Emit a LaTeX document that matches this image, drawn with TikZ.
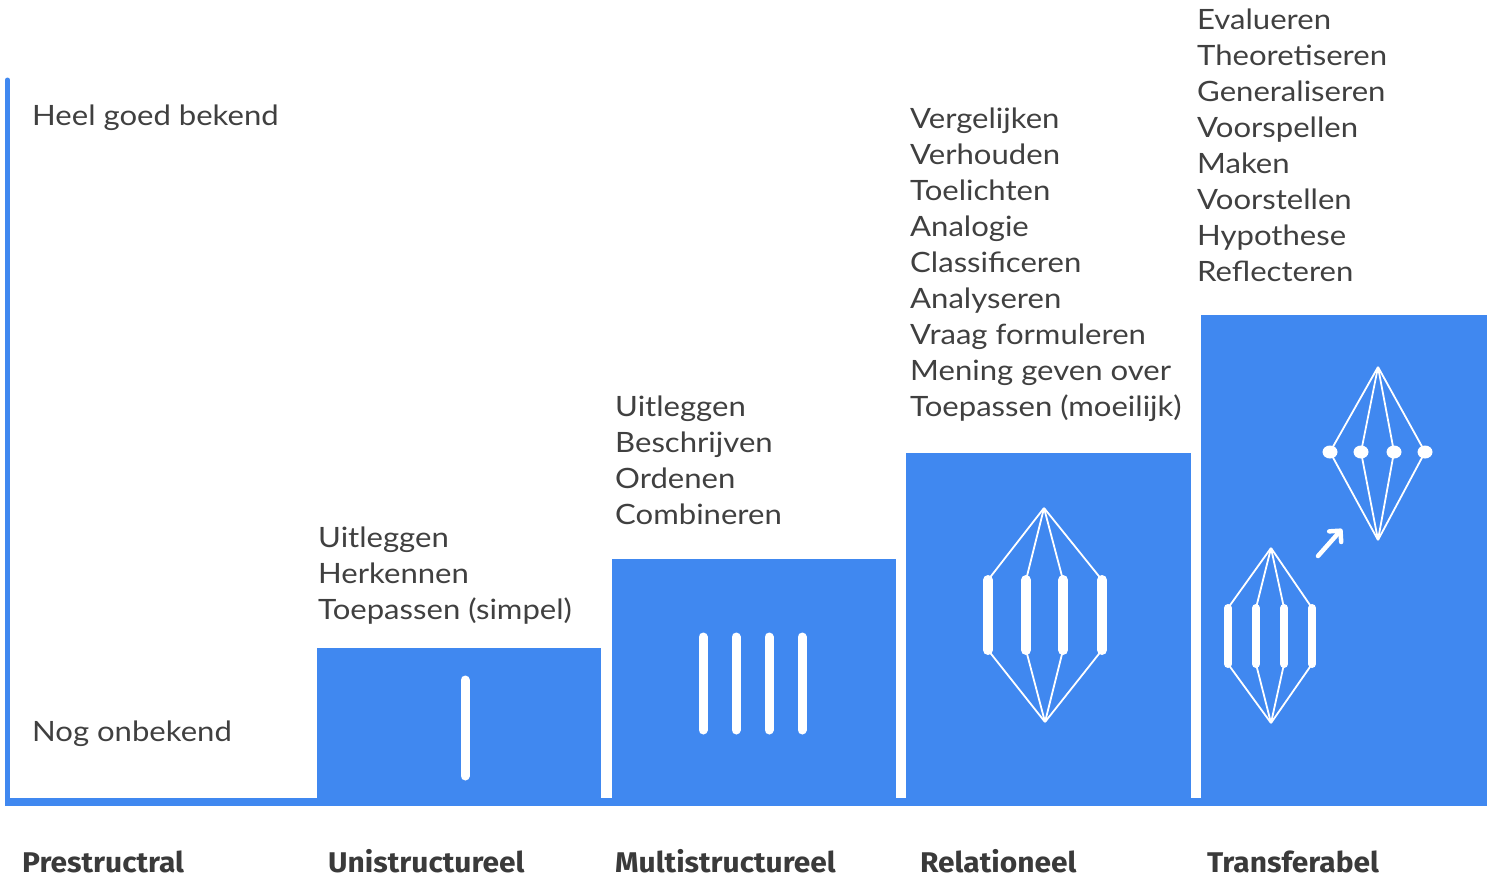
\documentclass[tikz,border=0pt]{standalone}
\usepackage{fontspec}
\setmainfont{Lato}[FakeStretch=1.11]
\newfontfamily\labfont{Fira Sans}[FakeStretch=1.05]
\usetikzlibrary{arrows.meta}
\definecolor{barblue}{RGB}{64,136,240}
\definecolor{txtgray}{RGB}{64,64,64}
\tikzset{
  bar/.style={fill=barblue, draw=none},
  wstick/.style={white, line width=#1, line cap=round},
  wline/.style={white, line width=1.8pt},
  item/.style={anchor=base west, inner sep=0pt, text=txtgray, font=\fontsize{28}{34}\selectfont},
  lvl/.style={anchor=base west, inner sep=0pt, text=txtgray!90!black, font=\labfont\bfseries\fontsize{28.5}{32}\selectfont},
}
\begin{document}
\begin{tikzpicture}[x=1pt,y=-1pt]
\useasboundingbox (0,0) rectangle (1493,878);
% bars
\fill[bar] (317,648) rectangle (601,802);
\fill[bar] (612,559) rectangle (896,802);
\fill[bar] (906,453) rectangle (1191,802);
\fill[bar] (1201,315) rectangle (1487,802);
% axes
\fill[barblue] (5,798) rectangle (1487,806);
\draw[barblue, line width=5pt, line cap=round] (7.5,80) -- (7.5,803);
% Unistructureel stick
\draw[wstick=9pt] (465,680) -- (465,776);
% Multistructureel sticks
\foreach \x in {703,736,769,802}{\draw[wstick=9pt] (\x,637) -- (\x,730);}
% Relationeel
\coordinate (rt) at (1044,508);
\coordinate (rb) at (1045,722);
\foreach \x/\n in {988/1,1026/2,1063/3,1102/4}{
  \coordinate (rs\n t) at (\x,580);
  \coordinate (rs\n b) at (\x,650);
  \draw[wstick=10pt] (rs\n t) -- (rs\n b);
  \draw[wline] (rt) -- (rs\n t);
  \draw[wline] (rs\n b) -- (rb);
}
% Transferabel small
\coordinate (tt) at (1271,548);
\coordinate (tb) at (1271,723);
\foreach \x/\n in {1228/1,1256/2,1284/3,1312/4}{
  \coordinate (ts\n t) at (\x,608);
  \coordinate (ts\n b) at (\x,664);
  \draw[wstick=8pt] (ts\n t) -- (ts\n b);
  \draw[wline] (tt) -- (ts\n t);
  \draw[wline] (ts\n b) -- (tb);
}
% Transferabel dots
\coordinate (dt) at (1378,367);
\coordinate (db) at (1378,540);
\foreach \x/\n in {1330/1,1361/2,1394/3,1425/4}{
  \coordinate (dd\n) at (\x,452);
  \draw[wline] (dt) -- (dd\n);
  \draw[wline] (dd\n) -- (db);
  \fill[white] (dd\n) ellipse [x radius=7.5, y radius=6.5];
}
% arrow
\coordinate (a1) at (1318,556);
\coordinate (a2) at (1342,529);
\draw[white, line width=4.5pt, line cap=round, -{Straight Barb[round,length=8pt,width=16pt]}] (a1) -- (a2);
% axis labels
\node[item] (heel) at (32,125) {Heel goed bekend};
\node[item] (nog) at (32,741) {Nog onbekend};
% lists
\node[item] (u1) at (318,547) {Uitleggen};
\node[item] (u2) at (318,583) {Herkennen};
\node[item] (u3) at (318,619) {Toepassen (simpel)};
\node[item] (m1) at (615,416) {Uitleggen};
\node[item] (m2) at (615,452) {Beschrijven};
\node[item] (m3) at (615,488) {Ordenen};
\node[item] (m4) at (615,524) {Combineren};
\foreach \t [count=\i from 0] in {Vergelijken,Verhouden,Toelichten,Analogie,Classificeren,Analyseren,Vraag formuleren,Mening geven over,Toepassen (moeilijk)}{
  \node[item] (r\i) at (910,128+36*\i) {\t};
}
\foreach \t [count=\i from 0] in {Evalueren,Theoretiseren,Generaliseren,Voorspellen,Maken,Voorstellen,Hypothese,Reflecteren}{
  \node[item] (t\i) at (1197,29+36*\i) {\t};
}
% level labels
\node[lvl] (l1) at (22,872) {Prestructral};
\node[lvl] (l2) at (328,872) {Unistructureel};
\node[lvl] (l3) at (615,872) {Multistructureel};
\node[lvl] (l4) at (920,872) {Relationeel};
\node[lvl] (l5) at (1207,872) {Transferabel};
\end{tikzpicture}
\end{document}
